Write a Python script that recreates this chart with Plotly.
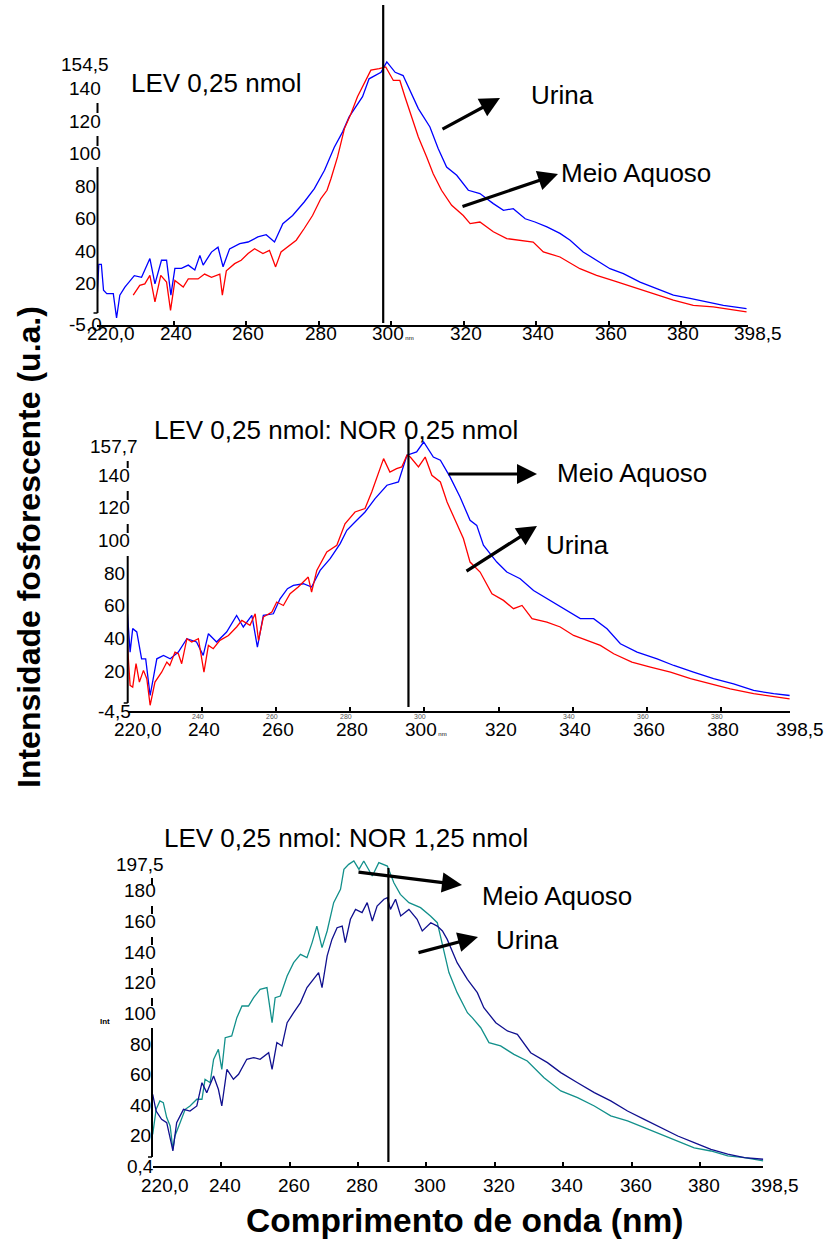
import plotly.graph_objects as go

W, H = 827, 1242
FONT = "Liberation Sans, Arial, Helvetica, sans-serif"

# ---------------- data ----------------
# Panel 1: LEV 0,25 nmol
top_wl_urina = [218.8, 219.3, 220.0, 220.6, 221.5, 223.3, 224.2, 225.1, 226.5, 229.1, 231.1, 233.4, 234.8,
                236.6, 238.0, 239.2, 240.3, 242.1, 244.0, 245.8, 247.2, 248.1, 250.4, 252.2, 253.6, 255.4,
                258.2, 260.5, 263.2, 265.5, 267.8, 270.1, 272.8, 276.0, 278.8, 281.6, 284.3, 286.6, 288.4,
                290.3, 292.1, 293.9, 295.8, 297.2, 298.8, 301.1, 303.3, 305.2, 307.5, 310.7, 313.0, 315.3,
                318.1, 321.3, 324.5, 328.2, 331.0, 333.7, 337.0, 339.7, 343.0, 346.6, 349.4, 353.0, 356.7,
                360.4, 364.1, 368.7, 373.3, 377.9, 382.5, 387.1, 391.7, 398.1]
top_int_urina = [10, 32, 32, 16, 14, 14, -1, 13, 18, 25, 24, 35.5, 20,
                 34.5, 34.5, 13, 29.5, 29.5, 31.5, 28.5, 37.5, 31.5, 39.5, 42.5, 30.5, 41.5,
                 44.7, 45.7, 48.8, 50.2, 45.7, 57, 62, 70.3, 78.5, 89.8, 104, 113.4, 122.6,
                 128.7, 135, 146, 148.2, 150, 156.4, 150, 148, 139, 127.7, 116.4, 103, 91.8,
                 86.7, 77.5, 75.5, 69.3, 65.2, 66.2, 60, 58, 55, 51, 46.8, 39.6, 34.5,
                 29.3, 26.3, 21, 17, 13, 11, 8.9, 6.8, 4.8]

top_wl_aquoso = [228.8, 230.6, 232.0, 233.4, 234.8, 236.4, 238.0, 239.1, 240.3, 242.6, 244.0, 246.7, 248.5,
                 250.4, 252.7, 253.4, 254.5, 256.8, 258.6, 260.5, 262.3, 264.6, 266.4, 268.1, 269.6, 271.5,
                 273.8, 276.0, 278.3, 280.6, 282.3, 283.4, 285.2, 287.1, 288.9, 290.7, 292.6, 294.4, 296.7,
                 298.5, 300.6, 302.4, 303.8, 305.6, 307.5, 309.8, 311.6, 313.9, 316.7, 319.9, 321.8, 324.5,
                 328.2, 331.9, 335.6, 339.2, 342.0, 346.6, 352.1, 356.7, 361.3, 366.8, 372.3, 377.9, 383.4,
                 388.9, 398.1]
top_int_aquoso = [13, 19.1, 20, 25.2, 8.9, 25.2, 21.1, 3.7, 22, 18, 23, 23, 26,
                  24, 26, 13, 28, 32.4, 34.5, 38.6, 41.6, 38.6, 40.6, 30.4, 39.6, 42.7,
                  46.8, 54, 62, 72.4, 77.5, 84.7, 98, 115.4, 124.6, 135, 143, 151.3, 152.3,
                  153.3, 145, 145, 135, 123.6, 110.3, 98, 87.7, 77.5, 68.3, 62, 57, 58,
                  52, 47.8, 46.8, 45.7, 39.6, 36.5, 29.3, 25.2, 22, 18, 14, 10, 6.8,
                  5.8, 2.7]

# Panel 2: LEV 0,25 nmol: NOR 0,25 nmol
mid_wl_aquoso = [220.0, 220.7, 221.4, 222.5, 223.8, 224.9, 226.1, 227.9, 229.7, 231.5, 233.7, 236.0, 238.6,
                 240.4, 241.8, 244.0, 246.7, 249.4, 251.2, 253.5, 255.0, 256.6, 259.3, 261.1, 263.1, 264.7,
                 267.4, 269.6, 271.9, 274.6, 277.3, 279.1, 281.3, 284.0, 286.7, 289.9, 293.0, 295.3, 297.9,
                 299.8, 302.4, 304.3, 306.9, 309.6, 312.3, 314.1, 315.9, 319.5, 322.2, 325.8, 329.4, 333.9,
                 338.4, 342.0, 345.6, 349.2, 352.8, 357.3, 362.7, 367.2, 372.5, 377.9, 383.3, 388.7, 394.1,
                 398.4]
mid_int_aquoso = [55, 31.6, 46, 44, 27.5, 27.5, 5, 27.5, 29.6, 27.5, 31.6, 39.8, 37.8,
                  29.6, 42.9, 37.8, 43.9, 54.1, 47, 54.1, 34.7, 54.1, 55.1, 64.3, 70.5, 72.5,
                  73.5, 71.5, 81.7, 88.9, 98.1, 106.3, 111.4, 117.5, 125.7, 133.9, 135.9, 152.3, 154.3,
                  160.4, 151.2, 149.2, 139, 126.7, 112.4, 109.3, 97.1, 86.8, 80.7, 76.6, 69.4, 63.3,
                  57.2, 52.1, 52.1, 45.9, 36.7, 31.6, 27.5, 23.4, 19.3, 15.3, 12.2, 8.1, 6.1,
                  5]

mid_wl_urina = [220.0, 220.7, 221.4, 222.3, 223.2, 224.3, 225.2, 226.1, 227.4, 229.2, 230.6, 231.4, 232.8,
                233.7, 234.6, 236.0, 237.3, 239.1, 240.6, 241.8, 243.1, 244.9, 247.2, 249.4, 250.8, 253.0,
                254.4, 255.3, 256.6, 258.9, 260.2, 262.0, 263.8, 266.0, 268.7, 269.6, 271.0, 273.7, 276.4,
                278.6, 281.3, 284.0, 285.8, 287.6, 289.0, 290.7, 292.5, 293.9, 295.3, 296.2, 298.4, 300.2,
                302.0, 304.3, 306.1, 308.3, 310.5, 312.3, 315.0, 318.2, 321.3, 324.0, 326.3, 329.0, 333.0,
                336.6, 340.2, 343.8, 347.4, 351.0, 355.9, 360.9, 366.3, 371.7, 377.0, 382.4, 388.7, 398.4]
mid_int_urina = [35.7, 11.2, 10.1, 24.5, 13.2, 20.4, 15.3, -1, 13.2, 19.3, 25.5, 23.4, 31.6,
                 30.6, 24.5, 39.8, 37.8, 39.8, 19.3, 35.7, 33.7, 38.8, 41.8, 47, 51, 48,
                 55.1, 38.8, 53.1, 56.2, 62.3, 60.2, 67.4, 71.5, 77.6, 68.4, 81.7, 93, 97.1,
                 110.3, 117.5, 119.6, 129.8, 142, 150.2, 142, 144.1, 145.1, 152.3, 151.2, 145.1, 151.2,
                 140, 135.9, 123.6, 112.4, 101.2, 86.8, 80.7, 67.4, 63.3, 58.2, 60.2, 52.1, 50,
                 47, 41.8, 38.8, 35.7, 30.6, 25.5, 22.4, 19.3, 15.3, 12.2, 9.1, 6.1, 3]

# Panel 3: LEV 0,25 nmol: NOR 1,25 nmol
bot_wl_aquoso = [220.0, 221.0, 222.1, 223.1, 224.1, 225.1, 225.9, 226.5, 228.0, 229.5, 230.9, 232.9, 234.4,
                 235.3, 236.8, 237.8, 239.2, 240.2, 241.2, 243.1, 244.6, 246.1, 248.0, 249.5, 251.4, 253.4,
                 254.9, 255.8, 257.3, 259.3, 261.2, 263.2, 265.1, 266.6, 268.0, 269.5, 271.0, 272.9, 274.9,
                 275.9, 277.3, 278.8, 280.3, 281.7, 284.2, 286.1, 288.6, 290.5, 292.4, 294.9, 298.3, 301.2,
                 303.2, 304.7, 306.6, 309.0, 312.0, 313.4, 315.9, 318.3, 321.7, 325.6, 329.5, 334.4, 339.3,
                 344.2, 349.1, 353.9, 358.8, 363.7, 368.6, 373.5, 378.3, 383.2, 388.1, 393.0, 398.5]
bot_int_aquoso = [21, 37.4, 42.9, 41.8, 32, 26.5, 11.3, 20, 28.7, 37.4, 39.6, 44, 44,
                  57, 54.8, 70, 76.6, 63.5, 84.2, 85.3, 97.3, 104.9, 104.9, 110.3, 115.8, 116.9,
                  94, 110.3, 111.4, 124.5, 133.2, 138.6, 136.5, 146.3, 157.1, 143, 153.9, 172.4, 181.1,
                  194.1, 197.4, 199.6, 194.1, 199.6, 189.8, 198.5, 196.3, 185.4, 177.8, 172.4, 169.1, 163.7,
                  159.3, 144.1, 126.7, 113.6, 100.5, 97.3, 90.7, 81, 78.8, 73.3, 69, 58.1, 49.4,
                  45, 39.6, 33.1, 29.8, 25.5, 21.1, 16.7, 12.3, 10.2, 7, 5.9, 3.7]

bot_wl_urina = [220.0, 221.0, 222.6, 224.1, 225.6, 225.9, 227.0, 229.0, 230.9, 232.9, 234.4, 235.8, 237.8,
                239.2, 240.2, 241.7, 243.6, 245.1, 247.5, 249.5, 251.4, 253.9, 254.9, 256.3, 257.8, 259.3,
                261.2, 263.2, 265.1, 267.1, 268.5, 269.5, 271.0, 272.4, 273.9, 275.4, 276.3, 277.8, 279.3,
                281.2, 282.7, 284.2, 285.6, 287.6, 288.6, 289.5, 291.0, 292.5, 294.9, 297.3, 298.8, 301.3,
                303.2, 304.7, 306.1, 309.0, 312.0, 314.9, 316.8, 320.3, 323.7, 326.6, 330.5, 335.4, 339.3,
                344.2, 349.1, 353.9, 358.8, 363.7, 368.6, 373.5, 378.3, 383.2, 388.1, 393.0, 398.5]
bot_int_urina = [47.2, 36.3, 30.9, 28.7, 13.5, 10.2, 28.7, 37.4, 36.3, 39.6, 54.8, 48.3, 59.2,
                 50.5, 39.6, 63.5, 57, 60.3, 70.1, 71.2, 70.1, 74.4, 63.5, 81, 78.8, 94,
                 100.5, 107.1, 116.9, 122.3, 126.7, 116.9, 137.6, 148.4, 156, 157.1, 146.3, 161.5, 168,
                 165.9, 172.4, 160.4, 170.2, 174.6, 175.6, 168, 174.6, 163.7, 168, 161.5, 153.9, 159.3,
                 157.1, 153.9, 148.4, 133.2, 122.3, 113.6, 103.8, 94, 88.6, 86.4, 74.4, 67.9, 61.4,
                 54.8, 48.3, 42.9, 36.3, 30.9, 25.5, 20, 15.7, 11.3, 8.1, 5.9, 4.8]

# tick labels
x_tickvals = [220, 240, 260, 280, 300, 320, 340, 360, 380, 398.5]
x_ticktext_nm = ["220,0", "240", "260", "280", "300<span style='font-size:6px'> nm</span>", "320", "340",
                 "360", "380", "398,5"]
x_ticktext = ["220,0", "240", "260", "280", "300", "320", "340", "360", "380", "398,5"]
top_yvals = [-5, 20, 40, 60, 80, 100, 120, 140, 154.5]
top_ytext = ["-5,0", "20", "40", "60", "80", "100", "120", "140", "154,5"]
mid_yvals = [-4.5, 20, 40, 60, 80, 100, 120, 140, 157.7]
mid_ytext = ["-4,5", "20", "40", "60", "80", "100", "120", "140", "157,7"]
bot_yvals = [0.4, 20, 40, 60, 80, 100, 120, 140, 160, 180, 197.5]
bot_ytext = ["0,4", "20", "40", "60", "80", "100", "120", "140", "160", "180", "197,5"]
tiny_vals = [240, 260, 280, 300, 340, 360, 380]

# marker wavelengths (vertical lines)
top_marker_wl = 297.8
mid_marker_wl = 295.7
bot_marker_wl = 288.9


def PX(x):
    return x / W


def PY(y):
    return 1 - y / H


fig = go.Figure()
BLUE, RED, TEAL, NAVY = "#0000ff", "#ff0000", "#12908b", "#10108f"
lw = 1.3
fig.add_trace(go.Scatter(x=top_wl_urina, y=top_int_urina, mode="lines", line=dict(color=BLUE, width=lw),
                         xaxis="x", yaxis="y", name="Urina"))
fig.add_trace(go.Scatter(x=top_wl_aquoso, y=top_int_aquoso, mode="lines", line=dict(color=RED, width=lw),
                         xaxis="x", yaxis="y", name="Meio Aquoso"))
fig.add_trace(go.Scatter(x=mid_wl_aquoso, y=mid_int_aquoso, mode="lines", line=dict(color=BLUE, width=lw),
                         xaxis="x2", yaxis="y2", name="Meio Aquoso"))
fig.add_trace(go.Scatter(x=mid_wl_urina, y=mid_int_urina, mode="lines", line=dict(color=RED, width=lw),
                         xaxis="x2", yaxis="y2", name="Urina"))
fig.add_trace(go.Scatter(x=bot_wl_aquoso, y=bot_int_aquoso, mode="lines", line=dict(color=TEAL, width=lw),
                         xaxis="x3", yaxis="y3", name="Meio Aquoso"))
fig.add_trace(go.Scatter(x=bot_wl_urina, y=bot_int_urina, mode="lines", line=dict(color=NAVY, width=lw),
                         xaxis="x3", yaxis="y3", name="Urina"))

TICKSIZE = 19
tickfont = dict(family=FONT, size=TICKSIZE, color="black")


def xax(dom, rng, anchor):
    return dict(domain=dom, range=rng, anchor=anchor, showgrid=False, zeroline=False,
                showline=True, linecolor="black", linewidth=2, ticks="inside", ticklen=4,
                tickwidth=1.5, tickcolor="black", tickvals=x_tickvals[1:-1], showticklabels=False)


def yax(dom, rng, anchor):
    return dict(domain=dom, range=rng, anchor=anchor, showgrid=False, zeroline=False,
                showline=False, ticks="", showticklabels=False)


fig.update_layout(
    width=W, height=H, margin=dict(l=0, r=0, t=0, b=0),
    paper_bgcolor="white", plot_bgcolor="white", showlegend=False,
    font=dict(family=FONT, color="black"),
    xaxis=xax([PX(97), PX(748)], [218.8, 398.5], "y"),
    yaxis=yax([PY(324.5), PY(59.3)], [-5, 158], "x"),
    xaxis2=xax([PX(127.5), PX(790)], [220, 398.5], "y2"),
    yaxis2=yax([PY(711), PY(439.4)], [-4.5, 162], "x2"),
    xaxis3=xax([PX(152.7), PX(763.3)], [220, 398.5], "y3"),
    yaxis3=yax([PY(1166), PY(859.6)], [0.4, 200.5], "x3"),
)

shapes = []
# vertical marker lines
for xr, wl, y0, y1 in [("x", top_marker_wl, 323, 5), ("x2", mid_marker_wl, 707, 437), ("x3", bot_marker_wl, 1162, 868)]:
    shapes.append(dict(type="line", xref=xr, yref="paper", x0=wl, x1=wl, y0=PY(y0), y1=PY(y1),
                       line=dict(color="black", width=2.2)))
# y-axis line segments (partly hidden behind tick labels)
axis_segments = [
    (97.5, [(103, 113), (136, 146), (167, 313)]),
    (127.7, [(461, 468), (491, 500), (524, 533), (556, 703)]),
    (152.0, [(878, 885), (906, 914), (937, 945), (968, 975), (998, 1006), (1028, 1157)]),
]
for xpx, segs in axis_segments:
    for a, b in segs:
        shapes.append(dict(type="line", xref="paper", yref="paper", x0=PX(xpx), x1=PX(xpx),
                           y0=PY(a), y1=PY(b), line=dict(color="black", width=2)))
    last = segs[-1][1]
    shapes.append(dict(type="line", xref="paper", yref="paper", x0=PX(xpx - 4), x1=PX(xpx),
                       y0=PY(last), y1=PY(last), line=dict(color="black", width=1.5)))
fig.update_layout(shapes=shapes)

ann = []


def text(x, y, s, size=26, bold=False, xanchor="center", **kw):
    ann.append(dict(xref="paper", yref="paper", x=PX(x), y=PY(y), text=("<b>%s</b>" % s) if bold else s,
                    showarrow=False, xanchor=xanchor, yanchor="middle",
                    font=dict(family=FONT, size=size, color="black"), **kw))


def arrow(tx, ty, hx, hy):
    ann.append(dict(xref="paper", yref="paper", x=PX(hx), y=PY(hy), ax=tx - hx, ay=ty - hy,
                    text="", showarrow=True, arrowhead=2, arrowsize=1.25, arrowwidth=3.2,
                    arrowcolor="black", standoff=0, startstandoff=0))


# titles
text(129, 83, "LEV 0,25 nmol", xanchor="left")
text(152, 430, "LEV 0,25 nmol: NOR 0,25 nmol", xanchor="left")
text(162, 838, "LEV 0,25 nmol: NOR 1,25 nmol", xanchor="left")
# series labels + arrows
text(562, 95, "Urina")
arrow(441, 130, 500, 98)
text(636, 173, "Meio Aquoso")
arrow(461, 207, 558, 174)
text(632, 473, "Meio Aquoso")
arrow(447, 474, 537, 474)
text(577, 545, "Urina")
arrow(465, 572, 537, 526)
text(557, 896, "Meio Aquoso")
arrow(357, 872, 462, 885)
text(527, 940, "Urina")
arrow(417, 953, 478, 937)
# axis titles
text(464, 1220, "Comprimento de onda (nm)", size=33.5, bold=True)
text(29, 547, "Intensidade fosforescente (u.a.)", size=32, bold=True, textangle=-90)
text(105, 1021, "Int", size=8, bold=True)

# x tick labels (placed through each x axis)
for xr, y, labels, shift in [("x", 333, x_ticktext_nm, 2), ("x2", 730, x_ticktext_nm, 2), ("x3", 1185, x_ticktext, 4)]:
    for v, t in zip(x_tickvals, labels):
        extra = 8 if v in (220, 398.5) else 0
        ann.append(dict(xref=xr, yref="paper", x=v, y=PY(y), text=t, showarrow=False, xshift=shift + extra,
                        xanchor="center", yanchor="middle", font=tickfont))
# y tick labels (centred, placed through each y axis)
for yr, xc, vals, labels in [("y", 85, top_yvals, top_ytext), ("y2", 114, mid_yvals, mid_ytext),
                             ("y3", 140, bot_yvals, bot_ytext)]:
    for v, t in zip(vals, labels):
        ann.append(dict(xref="paper", yref=yr, x=PX(xc), y=v, text=t, showarrow=False,
                        xanchor="center", yanchor="middle", font=tickfont))
# tiny overlapping labels in the middle panel
for v in tiny_vals:
    ann.append(dict(xref="x2", yref="paper", x=v, y=PY(716), text=str(v), showarrow=False, xshift=-4,
                    xanchor="center", yanchor="middle", font=dict(family=FONT, size=7, color="#555")))
fig.update_layout(annotations=ann)

fig.write_html("out.html")
